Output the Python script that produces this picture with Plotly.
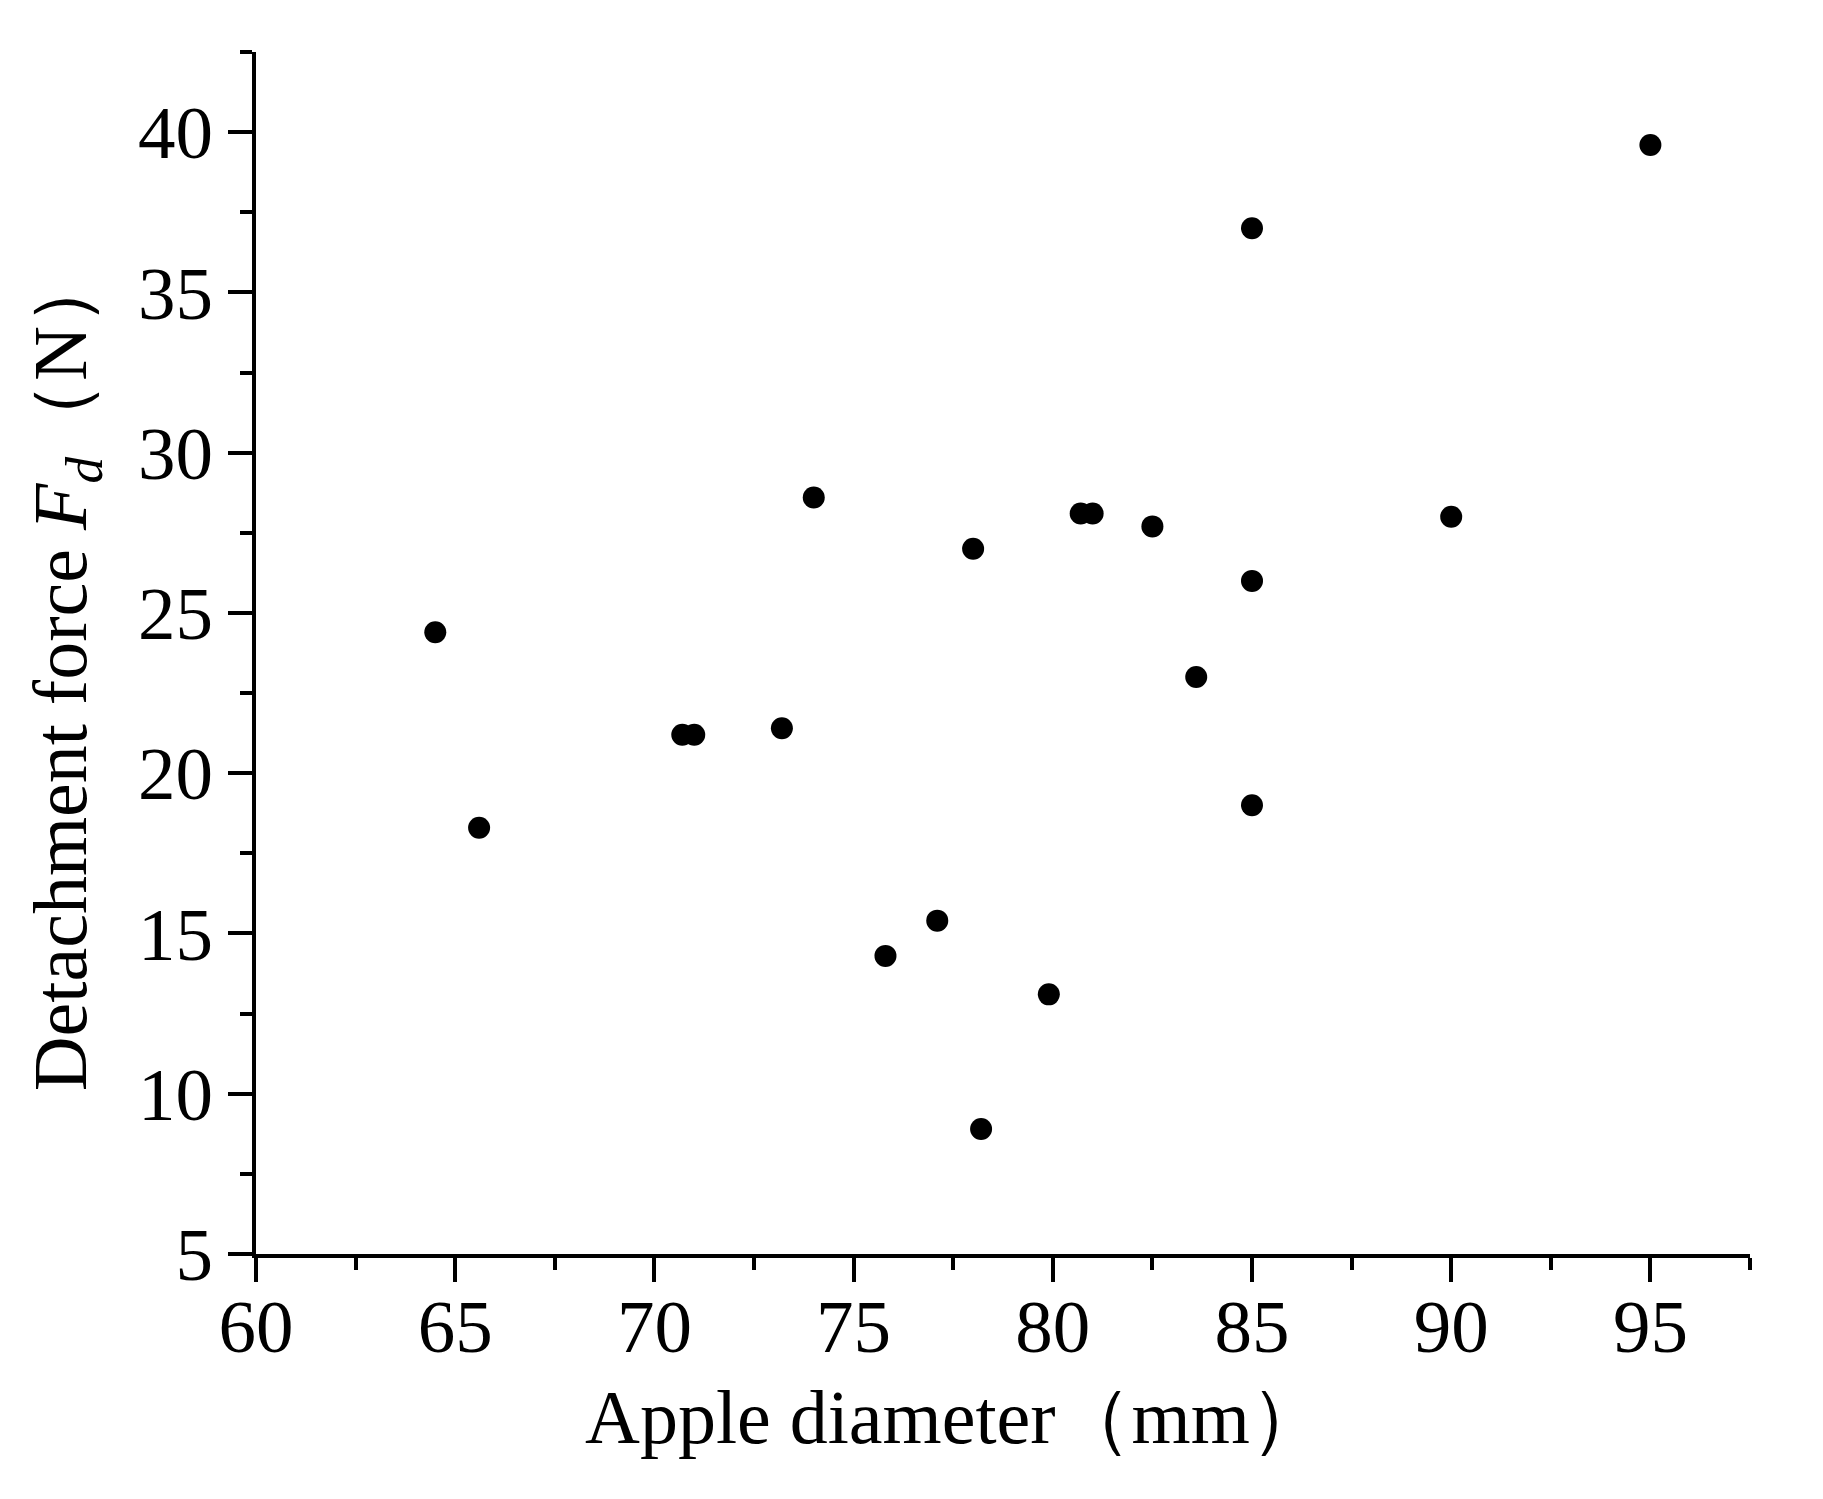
import plotly.graph_objects as go

# apple diameter (mm) vs detachment force (N)
diameter = [64.5, 65.6, 70.7, 71.0, 73.2, 74.0, 75.8, 77.1, 78.0, 78.2,
            79.9, 80.7, 81.0, 82.5, 83.6, 85.0, 85.0, 85.0, 90.0, 95.0]
force = [24.4, 18.3, 21.2, 21.2, 21.4, 28.6, 14.3, 15.4, 27.0, 8.9,
         13.1, 28.1, 28.1, 27.7, 23.0, 37.0, 26.0, 19.0, 28.0, 39.6]

x_ticks = [60, 65, 70, 75, 80, 85, 90, 95]
y_ticks = [5, 10, 15, 20, 25, 30, 35, 40]

FONT = "Liberation Serif, Times New Roman, serif"

fig = go.Figure()

fig.add_trace(
    go.Scatter(
        x=diameter, y=force,
        mode="markers",
        marker=dict(color="black", size=22, line=dict(width=0)),
        showlegend=False,
        cliponaxis=False,
    )
)

axis_style = dict(
    showgrid=False, zeroline=False, automargin=False,
    showline=True, linecolor="black", linewidth=4,
    ticks="outside", ticklen=24, tickwidth=4, tickcolor="black",
    tickfont=dict(family=FONT, size=75, color="black"),
    minor=dict(ticks="outside", ticklen=12, tickwidth=3.5, tickcolor="black", dtick=2.5),
)

fig.update_xaxes(
    range=[60, 97.5], tickvals=x_ticks, minor_tick0=60,
    ticklabelstandoff=-20, **axis_style,
)
fig.update_yaxes(
    range=[5, 42.5], tickvals=y_ticks, minor_tick0=5, **axis_style,
)

# axis titles
fig.add_annotation(
    text="Apple diameter（mm）",
    xref="paper", yref="paper", x=0.468, y=-0.136,
    xanchor="center", yanchor="middle", showarrow=False,
    font=dict(family=FONT, size=76, color="black"),
)
fig.add_annotation(
    text="Detachment force <i>F</i><sub><i>d</i></sub>（N）",
    xref="paper", yref="paper", x=-0.127, y=0.485,
    xanchor="center", yanchor="middle", showarrow=False, textangle=-90,
    font=dict(family=FONT, size=76, color="black"),
)

# page body has an 8px default margin, so the figure is a bit smaller
fig.update_layout(
    width=1807, height=1483,
    margin=dict(l=248, r=65, t=44, b=237),
    plot_bgcolor="white", paper_bgcolor="white",
    font=dict(family=FONT, color="black"),
)

fig.write_html("out.html")
